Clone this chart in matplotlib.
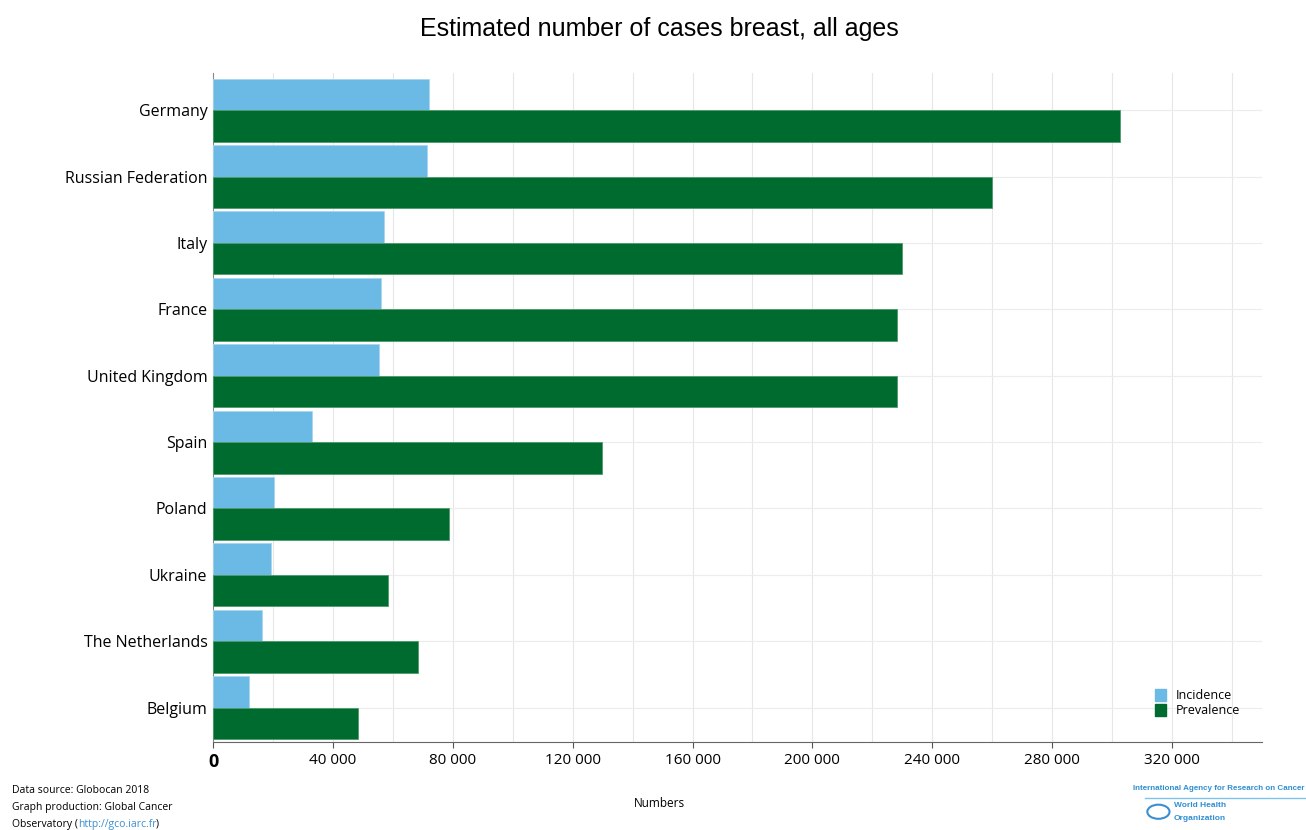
import numpy as np
import matplotlib.pyplot as plt
from matplotlib.patches import Rectangle, Circle
from matplotlib.lines import Line2D

countries = ['Germany', 'Russian Federation', 'Italy', 'France', 'United Kingdom',
             'Spain', 'Poland', 'Ukraine', 'The Netherlands', 'Belgium']
incidence = [72000, 71500, 57000, 56200, 55400, 32900, 20300, 19300, 16300, 12000]
prevalence = [302700, 260000, 229800, 228300, 228300, 129900, 78600, 58300, 68300, 48300]
xticks = [0, 40000, 80000, 120000, 160000, 200000, 240000, 280000, 320000]

blue = '#6bbae5'
green = '#006b2e'

fig = plt.figure(figsize=(13.06, 8.30), dpi=100)
ax = fig.add_axes([0.1631, 0.106, 0.8032, 0.806])

y = np.arange(len(countries))
h = 0.475
ax.barh(y - h / 2, incidence, height=h, color=blue, edgecolor='#a9d6ef', linewidth=0.6, zorder=3)
ax.barh(y + h / 2, prevalence, height=h, color=green, edgecolor='#4d9a6a', linewidth=0.6, zorder=3)

ax.set_xlim(0, 350000)
ax.set_ylim(9.52, -0.56)
ax.set_yticks(y)
ax.set_yticklabels(countries, fontsize=11.5, family='Open Sans')
ax.set_xticks(xticks)
ax.set_xticklabels(['0' if v == 0 else f'{v:,}'.replace(',', ' ') for v in xticks],
                   fontsize=11, family='Open Sans')
ax.get_xticklabels()[0].set_fontweight('bold')
ax.get_xticklabels()[0].set_fontsize(13)
ax.tick_params(axis='y', length=0, pad=4)
ax.tick_params(axis='x', length=4, color='#555555', pad=4)

# grid
for v in range(20000, 350000, 20000):
    ax.axvline(v, color='#e6e6e6', lw=0.8, zorder=0)
for v in y:
    ax.axhline(v, color='#ececec', lw=0.8, zorder=0)

for s in ['top', 'right']:
    ax.spines[s].set_visible(False)
ax.spines['left'].set_color('#888888')
ax.spines['bottom'].set_color('#666666')

fig.text(0.505, 0.965, 'Estimated number of cases breast, all ages', ha='center', va='center',
         fontsize=18, family='Liberation Sans')
fig.text(0.505, 0.032, 'Numbers', ha='center', va='center', fontsize=8.5, family='Open Sans')

# legend
ax.legend(handles=[Rectangle((0, 0), 1, 1, color=blue), Rectangle((0, 0), 1, 1, color=green)],
          labels=['Incidence', 'Prevalence'], loc='lower right', bbox_to_anchor=(0.99, 0.02),
          frameon=False, handlelength=0.9, handleheight=1.1, handletextpad=0.8,
          labelspacing=0.15, prop={'family': 'Open Sans', 'size': 9})

# footer
fs = 7.5
fig.text(0.009, 0.048, 'Data source: Globocan 2018', fontsize=fs, family='Open Sans', va='center')
fig.text(0.009, 0.027, 'Graph production: Global Cancer', fontsize=fs, family='Open Sans', va='center')
r = fig.canvas.get_renderer()
x0 = 0.009
for part, col in [('Observatory (', 'black'), ('http://gco.iarc.fr', '#3a8fd0'), (')', 'black')]:
    t = fig.text(x0, 0.007, part, fontsize=fs, family='Open Sans', va='center', color=col)
    bb = t.get_window_extent(renderer=r)
    x0 += bb.width / fig.bbox.width

fig.text(0.999, 0.050, 'International Agency for Research on Cancer', fontsize=5.8, color='#2f8fd3',
         family='Liberation Sans', fontweight='bold', va='center', ha='right')
fig.add_artist(Line2D([0.877, 0.999], [0.039, 0.039], color='#7fc3ea', lw=1))
fig.add_artist(Circle((0.887, 0.022), 0.0085, transform=fig.transFigure, fill=False,
                      edgecolor='#3b8fd0', lw=1.5))
fig.text(0.899, 0.029, 'World Health', fontsize=6, color='#2f8fd3', fontweight='bold',
         family='Liberation Sans', va='center')
fig.text(0.899, 0.014, 'Organization', fontsize=6, color='#2f8fd3', fontweight='bold',
         family='Liberation Sans', va='center')

fig.savefig('out.png', dpi=100)
